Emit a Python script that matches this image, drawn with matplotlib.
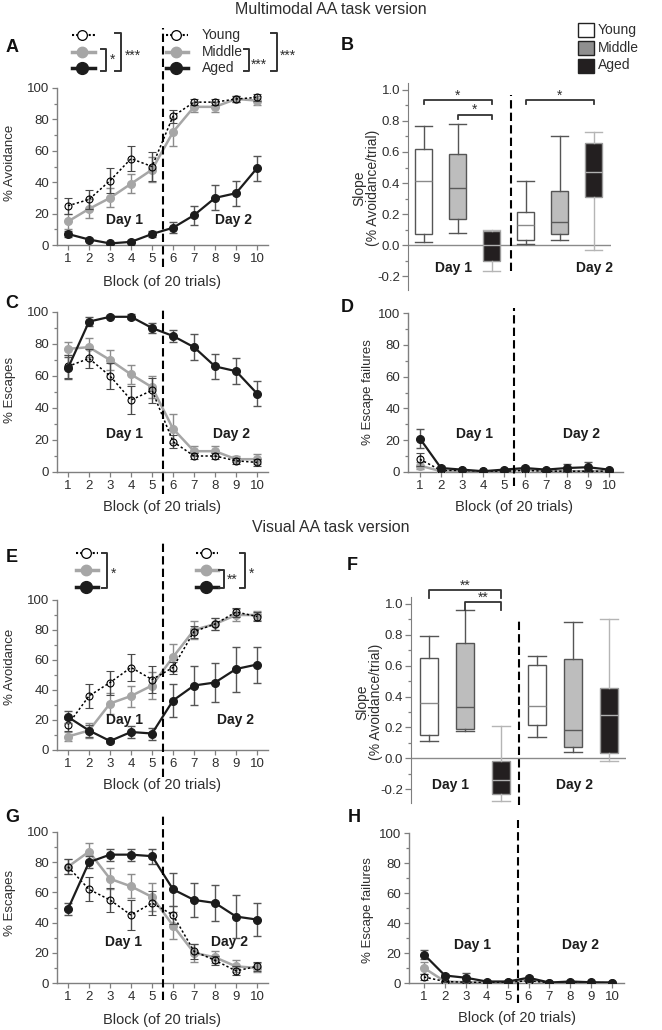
import matplotlib.pyplot as plt
from matplotlib.patches import Rectangle
from matplotlib.ticker import MultipleLocator, FormatStrFormatter
import numpy as np

plt.rcParams['font.family'] = ['Liberation Sans', 'DejaVu Sans']
plt.rcParams['axes.unicode_minus'] = False

# ---------------- data ----------------
blocks = np.arange(1, 11)

# A: multimodal, % avoidance
avoid_mm_young = [25, 29, 41, 55, 50, 82, 91, 91, 93, 94]
avoid_mm_young_err = [5, 6, 8, 8, 9, 4, 2, 2, 2, 2]
avoid_mm_middle = [15, 23, 30, 39, 48, 72, 88, 88, 93, 92]
avoid_mm_middle_err = [5, 6, 6, 6, 8, 9, 3, 3, 2, 3]
avoid_mm_aged = [7, 3.5, 1, 2, 7, 11, 19, 30, 33, 49]
avoid_mm_aged_err = [2, 1, 0.5, 1, 2, 3.5, 6, 8, 8, 8]

# C: multimodal, % escapes
esc_mm_young = [66, 71, 60, 45, 51, 19, 10, 10, 7, 6]
esc_mm_young_err = [7, 6, 8, 9, 8, 4, 2, 2, 2, 2]
esc_mm_middle = [77, 78, 70, 61, 53, 27, 13, 13, 8, 8]
esc_mm_middle_err = [4, 6, 6, 6, 7, 9, 3, 3, 2, 3]
esc_mm_aged = [65, 94, 97, 97, 90, 85, 78, 66, 63, 49]
esc_mm_aged_err = [7, 3, 1, 1.5, 3, 4, 8, 8, 8, 8]

# D: multimodal, % escape failures
fail_mm_young = [8, 1, 1, 0.5, 0.5, 1, 0.5, 0.5, 0.5, 0.5]
fail_mm_young_err = [4, 0.5, 0.5, 0.3, 0.3, 0.5, 0.3, 0.3, 0.3, 0.3]
fail_mm_middle = [4, 0.5, 0.5, 0.3, 0.5, 1.5, 0.5, 0.5, 0.5, 0.5]
fail_mm_middle_err = [2, 0.3, 0.3, 0.2, 0.3, 0.5, 0.3, 0.3, 0.3, 0.3]
fail_mm_aged = [21, 2.5, 1.5, 0.5, 1.5, 2.5, 1.5, 2.5, 3, 1.5]
fail_mm_aged_err = [6, 1, 0.5, 0.3, 0.5, 1, 0.5, 2.5, 3, 0.5]

# E: visual, % avoidance
avoid_vis_young = [17, 36, 45, 55, 47, 55, 79, 84, 92, 89]
avoid_vis_young_err = [4, 8, 8, 9, 9, 4, 4, 4, 3, 3]
avoid_vis_middle = [9, 13, 31, 36, 43, 62, 80, 84, 90, 90]
avoid_vis_middle_err = [3, 5, 7, 7, 9, 9, 6, 4, 4, 3]
avoid_vis_aged = [22, 13, 6, 12, 11, 33, 43, 45, 54, 57]
avoid_vis_aged_err = [4, 4, 1, 4, 4, 11, 13, 13, 15, 12]

# G: visual, % escapes
esc_vis_young = [77, 62, 55, 45, 53, 45, 21, 15, 8, 11]
esc_vis_young_err = [5, 8, 8, 10, 8, 6, 5, 3, 3, 3]
esc_vis_middle = [77, 87, 69, 64, 57, 38, 20, 17, 11, 10]
esc_vis_middle_err = [5, 6, 7, 8, 9, 9, 6, 4, 4, 3]
esc_vis_aged = [49, 80, 85, 85, 84, 62, 55, 53, 44, 42]
esc_vis_aged_err = [4, 4, 4, 4, 5, 11, 11, 12, 14, 11]

# H: visual, % escape failures
fail_vis_young = [4, 1, 0.5, 0.3, 0.5, 1.5, 0.2, 0.2, 0.2, 0.2]
fail_vis_young_err = [2, 0.5, 0.3, 0.2, 0.3, 0.5, 0.2, 0.2, 0.2, 0.2]
fail_vis_middle = [10, 1, 0.5, 0.3, 0.3, 2, 0.2, 0.2, 0.2, 0.2]
fail_vis_middle_err = [4, 0.5, 0.3, 0.2, 0.2, 1, 0.2, 0.2, 0.2, 0.2]
fail_vis_aged = [19, 5, 3.5, 1, 1, 3.5, 0.3, 1, 0.5, 0.3]
fail_vis_aged_err = [3, 1, 3, 0.5, 0.5, 1.5, 0.3, 0.3, 0.3, 0.3]

# B / F: slopes (Young, Middle, Aged on day 1 then day 2)
box_pos = [1, 2, 3, 4, 5, 6]
slope_mm_whislo = [0.02, 0.08, -0.17, 0.005, 0.03, -0.03]
slope_mm_q1 = [0.07, 0.17, -0.10, 0.03, 0.07, 0.31]
slope_mm_med = [0.41, 0.37, 0.0, 0.13, 0.15, 0.47]
slope_mm_q3 = [0.62, 0.59, 0.09, 0.21, 0.35, 0.66]
slope_mm_whishi = [0.77, 0.78, 0.10, 0.41, 0.70, 0.73]

slope_vis_whislo = [0.11, 0.175, -0.28, 0.14, 0.04, -0.015]
slope_vis_q1 = [0.15, 0.19, -0.23, 0.215, 0.07, 0.035]
slope_vis_med = [0.36, 0.33, -0.14, 0.34, 0.18, 0.28]
slope_vis_q3 = [0.65, 0.75, -0.02, 0.605, 0.64, 0.455]
slope_vis_whishi = [0.79, 0.96, 0.21, 0.665, 0.885, 0.90]

groups = ['Young', 'Middle', 'Aged']

# ---------------- style ----------------
W, H = 662, 1030
AX_GRAY = '#7f7f7f'
TXT = '#2e2e2e'
MID_GRAY = '#a6a6a6'
DARK = '#1c1c1c'

fig = plt.figure(figsize=(W / 100, H / 100), dpi=100)


def axes_px(l, t, r, b):
    return fig.add_axes([l / W, 1 - b / H, (r - l) / W, (b - t) / H])


def line_panel(box, xlim, young, young_err, middle, middle_err, aged, aged_err,
               dash_y, day1, day2):
    ax = axes_px(*box)
    ax.errorbar(blocks, middle, yerr=middle_err, color=MID_GRAY, lw=1.8, marker='o',
                ms=5.5, mec=MID_GRAY, ecolor='#8c8c8c', elinewidth=1, capsize=3,
                zorder=3)
    ax.errorbar(blocks, young, yerr=young_err, color='black', lw=1.1,
                ls=(0, (1.5, 1.5)), marker='o', ms=5, mfc='none', mec='black',
                mew=0.8, ecolor='#4a4a4a', elinewidth=1, capsize=3, zorder=4)
    ax.errorbar(blocks, aged, yerr=aged_err, color=DARK, lw=1.6, marker='o', ms=5.5,
                ecolor='#555555', elinewidth=1, capsize=3, zorder=5)
    ax.plot([5.5, 5.5], dash_y, color='black', lw=1.5, ls=(0, (4, 2)),
            clip_on=False, zorder=6)
    ax.set_xlim(*xlim)
    ax.set_ylim(0, 100)
    ax.set_xticks(blocks)
    ax.set_yticks(range(0, 101, 20))
    ax.yaxis.set_minor_locator(MultipleLocator(10))
    for s in ['top', 'right']:
        ax.spines[s].set_visible(False)
    for s in ['left', 'bottom']:
        ax.spines[s].set_color(AX_GRAY)
        ax.spines[s].set_linewidth(1)
    ax.tick_params(which='both', colors=AX_GRAY, labelcolor=TXT, labelsize=9.5,
                   length=3.5, width=0.9, pad=2)
    ax.tick_params(which='minor', length=2)
    ax.text(day1[0], day1[1], 'Day 1', fontsize=10, fontweight='bold',
            ha='center', va='center', color=DARK)
    ax.text(day2[0], day2[1], 'Day 2', fontsize=10, fontweight='bold',
            ha='center', va='center', color=DARK)
    return ax


box_face = ['white', '#bdbdbd', '#231f20']
box_edge = ['#555555', '#555555', '#9a9a9a']
median_col = ['#8a8a8a', '#5a5a5a', '#b0b0b0']
whisk_col = ['#555555', '#555555', '#b5b5b5']


def box_panel(box, xlim, whislo, q1, med, q3, whishi, dash_x, dash_y, day1, day2):
    ax = axes_px(*box)
    stats = [dict(whislo=a, q1=b, med=c, q3=d, whishi=e, fliers=[])
             for a, b, c, d, e in zip(whislo, q1, med, q3, whishi)]
    bp = ax.bxp(stats, positions=box_pos, widths=0.5, capwidths=0.5,
                showfliers=False, patch_artist=True)
    for i, patch in enumerate(bp['boxes']):
        g = i % 3
        patch.set_facecolor(box_face[g])
        patch.set_edgecolor(box_edge[g])
        patch.set_linewidth(1)
        bp['medians'][i].set_color(median_col[g])
        bp['medians'][i].set_linewidth(1)
        for j in (2 * i, 2 * i + 1):
            bp['whiskers'][j].set_color(whisk_col[g])
            bp['caps'][j].set_color(whisk_col[g])
    ax.axhline(0, color='#8a8a8a', lw=1, zorder=0)
    ax.plot([dash_x, dash_x], dash_y, color='black', lw=1.5, ls=(0, (4, 2)),
            clip_on=False)
    ax.set_xlim(*xlim)
    ax.set_ylim(-0.29, 1.045)
    ax.set_xticks([])
    ax.yaxis.set_major_locator(MultipleLocator(0.2))
    ax.yaxis.set_minor_locator(MultipleLocator(0.1))
    ax.yaxis.set_major_formatter(FormatStrFormatter('%.1f'))
    for s in ['top', 'right', 'bottom']:
        ax.spines[s].set_visible(False)
    ax.spines['left'].set_color(AX_GRAY)
    ax.tick_params(axis='y', which='both', colors=AX_GRAY, labelcolor=TXT,
                   labelsize=9.5, length=4, width=0.9, pad=1.5)
    ax.tick_params(axis='y', which='minor', length=2.5)
    ax.text(day1[0], day1[1], 'Day 1', fontsize=10, fontweight='bold',
            ha='center', va='center', color=DARK)
    ax.text(day2[0], day2[1], 'Day 2', fontsize=10, fontweight='bold',
            ha='center', va='center', color=DARK)
    return ax


def sig_bracket(ax, x0, x1, y, drop, label):
    ax.plot([x0, x0, x1, x1], [y - drop, y, y, y - drop], color='#333333', lw=1.3,
            clip_on=False)
    ax.text((x0 + x1) / 2, y + 0.004, label, ha='center', va='baseline',
            fontsize=10, color=TXT)


# ---------------- panels ----------------
axA = line_panel((57, 88, 268, 245), (0.476, 10.52), avoid_mm_young, avoid_mm_young_err,
                 avoid_mm_middle, avoid_mm_middle_err, avoid_mm_aged, avoid_mm_aged_err,
                 (-14, 138), (3.67, 16), (8.86, 16))
axC = line_panel((57, 312, 268, 472), (0.476, 10.52), esc_mm_young, esc_mm_young_err,
                 esc_mm_middle, esc_mm_middle_err, esc_mm_aged, esc_mm_aged_err,
                 (-14, 102), (3.67, 24), (8.8, 24))
axD = line_panel((408, 313, 623, 472), (0.43, 10.67), fail_mm_young, fail_mm_young_err,
                 fail_mm_middle, fail_mm_middle_err, fail_mm_aged, fail_mm_aged_err,
                 (-9, 103), (3.62, 24), (8.7, 24))
axE = line_panel((57, 600, 268, 750), (0.476, 10.52), avoid_vis_young, avoid_vis_young_err,
                 avoid_vis_middle, avoid_vis_middle_err, avoid_vis_aged, avoid_vis_aged_err,
                 (-18, 138), (3.71, 20), (8.95, 20))
axG = line_panel((57, 832, 268, 983), (0.476, 10.52), esc_vis_young, esc_vis_young_err,
                 esc_vis_middle, esc_vis_middle_err, esc_vis_aged, esc_vis_aged_err,
                 (-11, 111), (3.62, 27), (8.7, 27))
axH = line_panel((409, 833, 624, 983), (0.28, 10.57), fail_vis_young, fail_vis_young_err,
                 fail_vis_middle, fail_vis_middle_err, fail_vis_aged, fail_vis_aged_err,
                 (-13, 109), (3.34, 25), (8.5, 25))

axB = box_panel((408, 83, 611, 290), (0.53, 6.5), slope_mm_whislo, slope_mm_q1,
                slope_mm_med, slope_mm_q3, slope_mm_whishi, 3.56, (-0.17, 0.97),
                (1.88, -0.15), (6.0, -0.15))
sig_bracket(axB, 1, 3, 0.935, 0.025, '*')
sig_bracket(axB, 2, 3, 0.84, 0.025, '*')
sig_bracket(axB, 4, 6, 0.935, 0.025, '*')

axF = box_panel((411, 597, 626, 803), (0.5, 6.47), slope_vis_whislo, slope_vis_q1,
                slope_vis_med, slope_vis_q3, slope_vis_whishi, 3.5, (-0.3, 0.9),
                (1.61, -0.175), (5.03, -0.175))
sig_bracket(axF, 1, 3, 1.09, 0.05, '**')
sig_bracket(axF, 2, 3, 1.01, 0.05, '**')

# ---------------- overlay: titles, labels, legends ----------------
ov = fig.add_axes([0, 0, 1, 1], zorder=10)
ov.set_xlim(0, W)
ov.set_ylim(H, 0)
ov.axis('off')

ov.text(331, 10, 'Multimodal AA task version', fontsize=11.5, ha='center', va='center', color=TXT)
ov.text(331, 528, 'Visual AA task version', fontsize=11.5, ha='center', va='center', color=TXT)

for letter, x, y in [('A', 12, 47), ('B', 347, 45), ('C', 12, 304), ('D', 347, 307),
                     ('E', 12, 557), ('F', 352, 565), ('G', 12, 818), ('H', 354, 818)]:
    ov.text(x, y, letter, fontsize=13, fontweight='bold', ha='center', va='center', color='#111111')

xlab = 'Block (of 20 trials)'
for x, y in [(162, 282), (162, 507), (514, 507), (162, 785), (162, 1020), (517, 1018)]:
    ov.text(x, y, xlab, fontsize=10.5, ha='center', va='center', color=TXT)

for text, x, y in [('% Avoidance', 10, 163), ('% Escapes', 10, 390), ('% Escape failures', 368, 392),
                   ('% Avoidance', 10, 667), ('% Escapes', 10, 903), ('% Escape failures', 368, 910)]:
    ov.text(x, y, text, fontsize=9.5, rotation=90, ha='center', va='center', color=TXT)

for x, y in ((366, 188), (369, 702)):
    ov.text(x, y, 'Slope\n(% Avoidance/trial)', fontsize=10, rotation=90, ha='center',
            va='center', linespacing=0.95, color=TXT)


def legend_row(x0, x1, xm, y, group):
    if group == 'Young':
        ov.plot([x0, x1], [y, y], color='black', lw=1.5, ls=(0, (1, 1)))
        ov.plot([xm], [y], 'o', ms=7, mfc='white', mec='black', mew=0.9)
    elif group == 'Middle':
        ov.plot([x0, x1], [y, y], color=MID_GRAY, lw=2.5)
        ov.plot([xm], [y], 'o', ms=7.5, color=MID_GRAY)
    else:
        ov.plot([x0, x1], [y, y], color=DARK, lw=2.5)
        ov.plot([xm], [y], 'o', ms=8.5, color=DARK)


def leg_bracket(x, y0, y1, label, tx, tyc, w=5):
    ov.plot([x - w, x, x, x - w], [y0, y0, y1, y1], color='#333333', lw=1.4)
    ov.text(tx, tyc + 8, label, fontsize=10, ha='left', va='baseline', color=TXT)


# A legend
for g, y in zip(groups, (35, 52, 68)):
    legend_row(72, 95, 82, y, g)
    legend_row(166, 188, 176, y, g)
    ov.text(202, y, g, fontsize=10, ha='left', va='center', color=TXT)
leg_bracket(106, 49, 71, '*', 110, 56)
leg_bracket(121, 33, 71, '***', 125, 52, w=6)
leg_bracket(249, 49, 71, '***', 251, 61)
leg_bracket(277, 33, 71, '***', 280, 52, w=6)

# E legend
for g, y in zip(groups, (553, 570, 587)):
    legend_row(76, 98, 86, y, g)
    legend_row(196, 218, 206, y, g)
leg_bracket(107, 553, 588, '*', 111, 570)
leg_bracket(224, 570, 588, '**', 227, 576)
leg_bracket(245, 553, 588, '*', 249, 570)

# B box legend
for g, face, y in zip(groups, box_face, (30, 47.5, 65.5)):
    ov.add_patch(Rectangle((578, y - 7), 16, 14, facecolor=face if g != 'Middle' else '#8f8f8f',
                           edgecolor='#222222', lw=1))
    ov.text(598, y, g, fontsize=10, ha='left', va='center', color=TXT)

fig.savefig('out.png', dpi=100)
